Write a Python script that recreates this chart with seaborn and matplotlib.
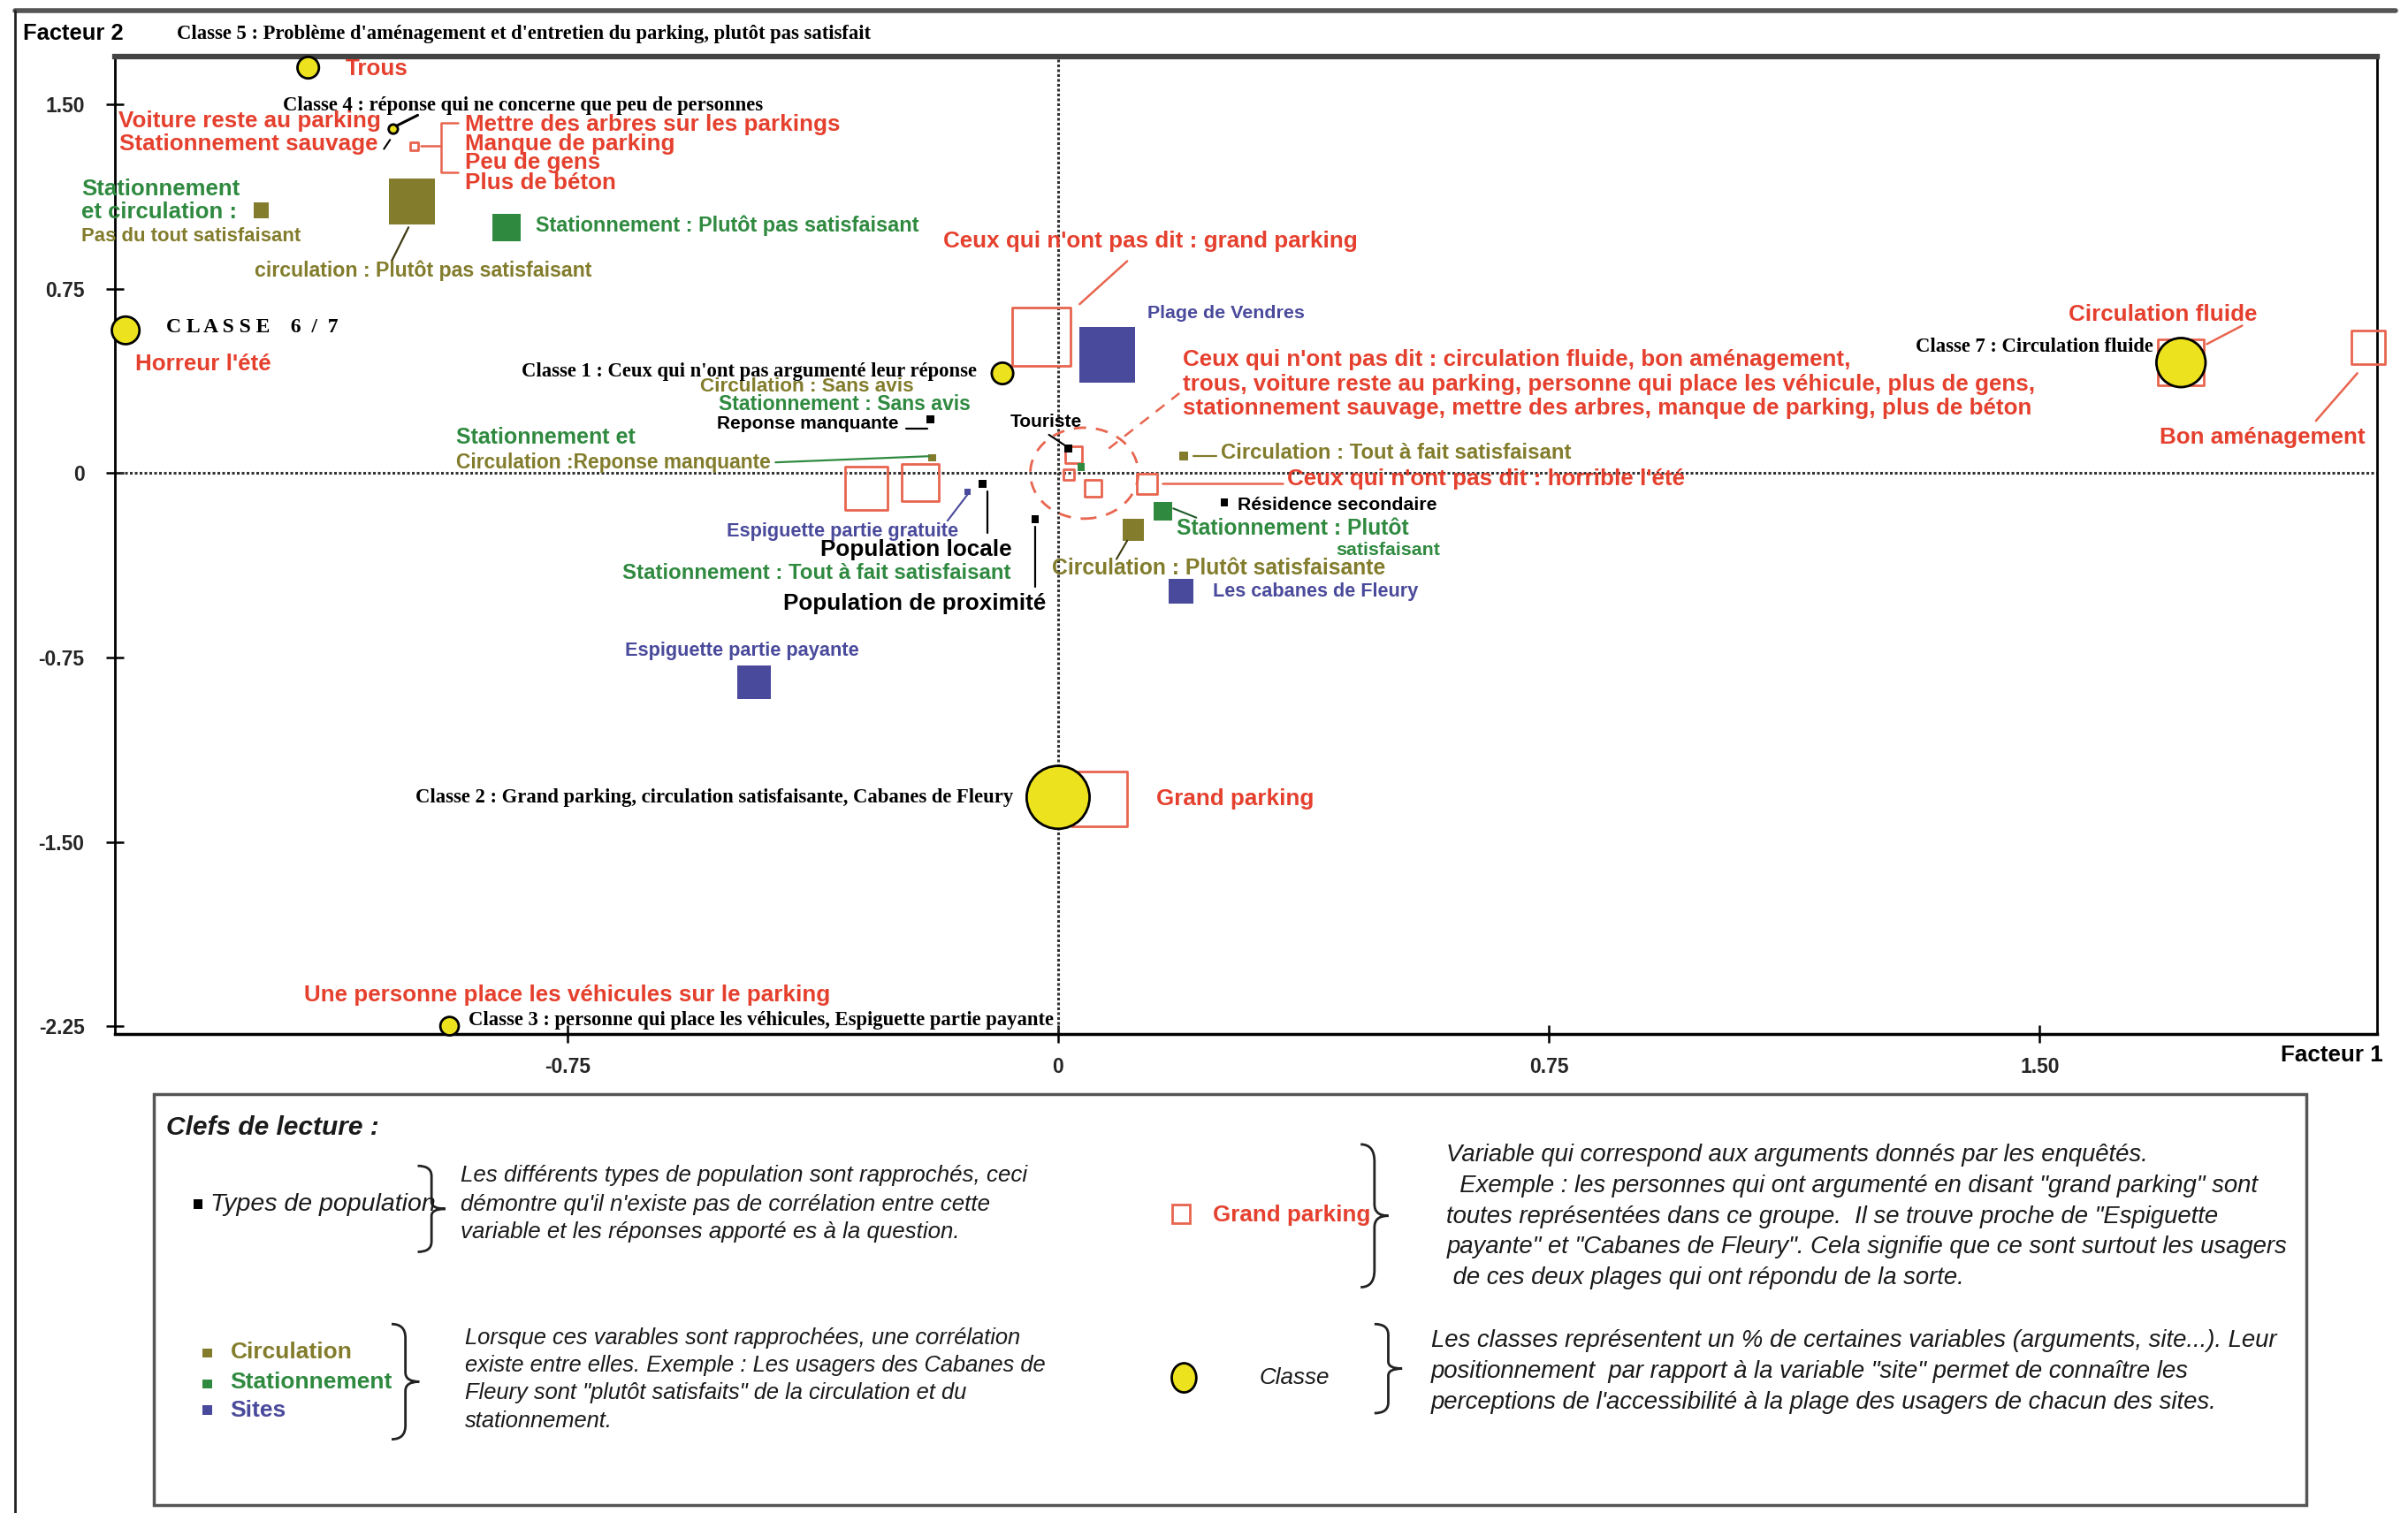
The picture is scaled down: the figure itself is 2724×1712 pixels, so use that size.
import matplotlib
matplotlib.use("Agg")
import matplotlib.pyplot as plt
import seaborn as sns
from matplotlib.lines import Line2D
from matplotlib.patches import Rectangle, Ellipse, PathPatch
from matplotlib.path import Path

# --------------------------------------------------
# DATA (factor coordinates)
# --------------------------------------------------
class_names = ["Classe 1", "Classe 2", "Classe 3", "Classe 4", "Classe 5", "Classe 6/7", "Classe 7"]
class_f1 = [-0.085, 0.0, -0.93, -1.016, -1.146, -1.425, 1.716]
class_f2 = [0.406, -1.319, -2.25, 1.40, 1.65, 0.581, 0.45]
class_weight = [14, 41, 12, 6, 14, 18, 32]

arg_names = ["Circulation fluide", "Bon aménagement", "Ceux qui n'ont pas dit : grand parking",
             "Grand parking", "Argument a", "Argument b", "Argument c", "Argument d",
             "Argument e", "Ceux qui n'ont pas dit : horrible l'été", "Arguments classe 4"]
arg_f1 = [1.716, 2.002, -0.026, 0.063, -0.293, -0.211, 0.024, 0.016, 0.054, 0.136, -0.984]
arg_f2 = [0.45, 0.512, 0.556, -1.325, -0.062, -0.038, 0.075, -0.006, -0.062, -0.044, 1.331]
arg_weight = [30, 22, 38, 36, 28, 24, 11, 7, 11, 13, 5]

circ_names = ["Pas du tout satisfaisant", "Plutôt pas satisfaisant", "Reponse manquante",
              "Tout à fait satisfaisant", "Plutôt satisfaisante"]
circ_f1 = [-1.218, -0.988, -0.192, 0.192, 0.115]
circ_f2 = [1.069, 1.106, 0.062, 0.069, -0.231]
circ_weight = [10, 30, 5, 6, 14]

stat_names = ["Plutôt pas satisfaisant", "Plutôt satisfaisant", "Tout à fait satisfaisant"]
stat_f1 = [-0.843, 0.160, 0.035]
stat_f2 = [1.0, -0.156, 0.025]
stat_weight = [18, 12, 5]

site_names = ["Plage de Vendres", "Espiguette partie gratuite", "Les cabanes de Fleury",
              "Espiguette partie payante"]
site_f1 = [0.075, -0.138, 0.188, -0.465]
site_f2 = [0.481, -0.075, -0.481, -0.85]
site_weight = [36, 4, 16, 22]

pop_names = ["Reponse manquante", "Touriste", "Population locale", "Population de proximité",
             "Résidence secondaire"]
pop_f1 = [-0.195, 0.016, -0.115, -0.035, 0.254]
pop_f2 = [0.219, 0.10, -0.044, -0.188, -0.119]
pop_weight = [5, 5, 5, 5, 5]

xticks = [-0.75, 0, 0.75, 1.50]
xtick_labels = ["-0.75", "0", "0.75", "1.50"]
yticks = [1.50, 0.75, 0, -0.75, -1.50, -2.25]
ytick_labels = ["1.50", "0.75", "0", "-0.75", "-1.50", "-2.25"]

# --------------------------------------------------
# STYLE
# --------------------------------------------------
RED = "#e5402e"
RED_EDGE = "#e8654f"
OLIVE = "#827c2c"
GREEN = "#2f8a40"
BLUE = "#4a4a9c"
YELLOW = "#ede21e"

sns.set_theme(style="white")
SANS = "Liberation Sans"
SERIF = "Liberation Serif"
plt.rcParams["font.family"] = [SANS, "DejaVu Sans"]

# reference frame used for placing annotations (preview pixel grid)
W, H = 1568, 985


def fx(px):
    return px / W


def fy(py):
    return 1 - py / H


def msize(px):
    # preview px -> points, squared for scatter
    return (px * 1.25) ** 2


fig = plt.figure(figsize=(27.24, 17.12), dpi=100)
ax = fig.add_axes([fx(75), fy(673), fx(1548) - fx(75), fy(37) - fy(673)])

ax.set_xlim(-1.441, 2.016)
ax.set_ylim(-2.281, 1.694)

ax.axhline(0, color="#333333", lw=2.2, ls=(0, (1, 0.8)), zorder=1)
ax.axvline(0, color="#333333", lw=2.2, ls=(0, (1, 0.8)), zorder=1)

# --------------------------------------------------
# MARKERS
# --------------------------------------------------
sns.scatterplot(x=arg_f1, y=arg_f2, s=[msize(v) for v in arg_weight], marker="s",
                color="none", edgecolor=RED_EDGE, linewidth=2.0, ax=ax, zorder=3,
                legend=False, clip_on=False)
sns.scatterplot(x=circ_f1, y=circ_f2, s=[msize(v) for v in circ_weight], marker="s",
                color=OLIVE, edgecolor=OLIVE, linewidth=0, ax=ax, zorder=4, legend=False)
sns.scatterplot(x=stat_f1, y=stat_f2, s=[msize(v) for v in stat_weight], marker="s",
                color=GREEN, edgecolor=GREEN, linewidth=0, ax=ax, zorder=4, legend=False)
sns.scatterplot(x=site_f1, y=site_f2, s=[msize(v) for v in site_weight], marker="s",
                color=BLUE, edgecolor=BLUE, linewidth=0, ax=ax, zorder=4, legend=False)
sns.scatterplot(x=pop_f1, y=pop_f2, s=[msize(v) for v in pop_weight], marker="s",
                color="black", edgecolor="black", linewidth=0, ax=ax, zorder=4, legend=False)
sns.scatterplot(x=class_f1, y=class_f2, s=[msize(v) for v in class_weight], marker="o",
                color=YELLOW, edgecolor="black", linewidth=2.0, ax=ax, zorder=5,
                legend=False, clip_on=False)

# dashed ring around the points near the origin
ax.add_patch(Ellipse((0.04, 0.0), 0.165, 0.37, fill=False, ec=RED_EDGE, lw=2.0,
                     ls=(0, (5, 4)), zorder=3))

# --------------------------------------------------
# AXES
# --------------------------------------------------
ax.set_xticks(xticks)
ax.set_xticklabels(xtick_labels)
ax.set_yticks(yticks)
ax.set_yticklabels(ytick_labels)
ax.tick_params(axis="both", direction="inout", length=14, width=1.8, color="black",
               labelsize=16.5, bottom=True, left=True, top=False, right=False)
ax.tick_params(axis="x", pad=12)
ax.tick_params(axis="y", pad=18)
for lab in ax.get_xticklabels() + ax.get_yticklabels():
    lab.set_fontweight("bold")
for side, lw, col in [("top", 4.5, "#444444"), ("left", 2.0, "black"),
                      ("bottom", 2.5, "black"), ("right", 2.0, "black")]:
    ax.spines[side].set_visible(True)
    ax.spines[side].set_linewidth(lw)
    ax.spines[side].set_color(col)
ax.set_xlabel("")
ax.set_ylabel("")

# --------------------------------------------------
# LABELS
# --------------------------------------------------
def red(px, py, s, ha="left", size=18.7):
    fig.text(fx(px), fy(py), s, color=RED, ha=ha, va="center", family=SANS,
             weight="bold", size=size)


def lab(px, py, s, color, size, ha="left"):
    fig.text(fx(px), fy(py), s, color=color, ha=ha, va="center", family=SANS,
             weight="bold", size=size)


def serif(px, py, s, ha="left", size=16.3):
    fig.text(fx(px), fy(py), s, color="black", ha=ha, va="center", family=SERIF,
             weight="bold", size=size)


def link(points, color, lw=1.8, ls="-"):
    fig.add_artist(Line2D([fx(p[0]) for p in points], [fy(p[1]) for p in points],
                          color=color, lw=lw, ls=ls, transform=fig.transFigure))


lab(15, 22, "Facteur 2", "black", 18.4)
serif(115, 22, "Classe 5 : Problème d'aménagement et d'entretien du parking, plutôt pas satisfait")
red(225, 45, "Trous")
serif(184, 69, "Classe 4 : réponse qui ne concerne que peu de personnes")
red(248, 79, "Voiture reste au parking", ha="right")
red(246, 94, "Stationnement sauvage", ha="right")
red(303, 81, "Mettre des arbres sur les parkings")
red(303, 94, "Manque de parking")
red(303, 106, "Peu de gens")
red(303, 119, "Plus de béton")
link([(298, 80), (287, 80), (287, 112), (298, 112)], RED_EDGE)
link([(274, 95), (287, 95)], RED_EDGE)
link([(258, 82), (272, 75)], "black", lw=2.2)
link([(250, 97), (254, 91)], "black", lw=1.5)

lab(53, 123, "Stationnement", GREEN, 18.5)
lab(53, 138, "et circulation :", GREEN, 18.5)
lab(53, 154, "Pas du tout satisfaisant", OLIVE, 15.9)
lab(349, 147, "Stationnement : Plutôt pas satisfaisant", GREEN, 16.9)
lab(166, 176, "circulation : Plutôt pas satisfaisant", OLIVE, 16.7)
link([(255, 170), (266, 148)], "#3d3a10", lw=1.6)

serif(108, 213, "C L A S S E    6  /  7", size=17)
red(88, 237, "Horreur l'été")

red(614, 157, "Ceux qui n'ont pas dit : grand parking")
link([(703, 198), (734, 170)], RED_EDGE)
lab(747, 204, "Plage de Vendres", BLUE, 15.4)
serif(636, 242, "Classe 1 : Ceux qui n'ont pas argumenté leur réponse", ha="right")
lab(456, 252, "Circulation : Sans avis", OLIVE, 16.2)
lab(468, 263, "Stationnement : Sans avis", GREEN, 16.6)
lab(467, 276, "Reponse manquante", "black", 15)
link([(590, 279), (604, 279)], "black", lw=1.6)
lab(297, 285, "Stationnement et", GREEN, 18)
lab(297, 301, "Circulation :Reponse manquante", OLIVE, 16.4)
link([(505, 301), (605, 297)], GREEN, lw=1.6)
lab(658, 275, "Touriste", "black", 15)
link([(683, 283), (695, 291)], "black", lw=1.5)

red(770, 234, "Ceux qui n'ont pas dit : circulation fluide, bon aménagement,")
red(770, 250, "trous, voiture reste au parking, personne qui place les véhicule, plus de gens,")
red(770, 266, "stationnement sauvage, mettre des arbres, manque de parking, plus de béton")
link([(722, 292), (768, 256)], RED_EDGE, ls=(0, (5, 4)))

link([(777, 297), (792, 297)], OLIVE, lw=1.6)
lab(795, 295, "Circulation : Tout à fait satisfaisant", OLIVE, 17.2)
link([(757, 315), (835, 315)], RED_EDGE)
red(838, 312, "Ceux qui n'ont pas dit : horrible l'été")
lab(806, 329, "Résidence secondaire", "black", 15.3)
lab(766, 344, "Stationnement : Plutôt", GREEN, 17.7)
lab(870, 358, "satisfaisant", GREEN, 15.4)
link([(764, 331), (779, 337)], "#1f5a2a", lw=1.5)
lab(473, 346, "Espiguette partie gratuite", BLUE, 15.7)
link([(617, 339), (630, 322)], BLUE, lw=1.5)
lab(534, 358, "Population locale", "black", 18.8)
link([(643, 320), (643, 347)], "black", lw=1.6)
lab(685, 370, "Circulation : Plutôt satisfaisante", OLIVE, 17.8)
link([(734, 352), (727, 364)], "#3d3a10", lw=1.5)
lab(405, 373, "Stationnement : Tout à fait satisfaisant", GREEN, 17.3)
lab(510, 393, "Population de proximité", "black", 18.7)
link([(674, 343), (674, 382)], "black", lw=1.6)
lab(790, 385, "Les cabanes de Fleury", BLUE, 15.6)
lab(407, 424, "Espiguette partie payante", BLUE, 15.7)

serif(1402, 226, "Classe 7 : Circulation fluide", ha="right")
red(1347, 205, "Circulation fluide")
link([(1437, 224), (1460, 212)], RED_EDGE)
red(1406, 285, "Bon aménagement")
link([(1508, 274), (1535, 243)], RED_EDGE)

serif(660, 519, "Classe 2 : Grand parking, circulation satisfaisante, Cabanes de Fleury", ha="right")
red(753, 520, "Grand parking")
red(198, 648, "Une personne place les véhicules sur le parking")
serif(305, 664, "Classe 3 : personne qui place les véhicules, Espiguette partie payante")
lab(1485, 687, "Facteur 1", "black", 18.7)

# outer page frame
link([(10, 7), (1560, 7)], "#555555", lw=4)
link([(10, 7), (10, 985)], "#222222", lw=2)

# --------------------------------------------------
# READING KEY
# --------------------------------------------------
fig.add_artist(Rectangle((fx(100), fy(980)), fx(1502) - fx(100), fy(712) - fy(980),
                         fill=False, ec="#555555", lw=2.5, transform=fig.transFigure))


def key_text(px, py, s, size=18.5, color="#1a1a1a", weight="normal"):
    fig.text(fx(px), fy(py), s, color=color, ha="left", va="center", family=SANS,
             style="italic", weight=weight, size=size)


def brace(px, py0, py1, w):
    h = py1 - py0
    pm = (py0 + py1) / 2
    xm = px + w / 2
    pts = [(px, py0), (xm, py0), (xm, py0 + 0.12 * h), (xm, pm - 0.08 * h),
           (xm, pm), (px + w, pm), (xm, pm), (xm, pm + 0.08 * h),
           (xm, py1 - 0.12 * h), (xm, py1), (px, py1)]
    codes = [Path.MOVETO, Path.CURVE3, Path.CURVE3, Path.LINETO,
             Path.CURVE3, Path.CURVE3, Path.CURVE3, Path.CURVE3,
             Path.LINETO, Path.CURVE3, Path.CURVE3]
    path = Path([(fx(a), fy(b)) for a, b in pts], codes)
    fig.add_artist(PathPatch(path, fill=False, ec="#222222", lw=2.0, transform=fig.transFigure))


def key_square(px, py, side, color, hollow=False):
    wf = side / W
    hf = side / H
    fig.add_artist(Rectangle((fx(px) - wf / 2, fy(py) - hf / 2), wf, hf,
                             fc="none" if hollow else color, ec=color, lw=2.0 if hollow else 0,
                             transform=fig.transFigure))


key_text(108, 734, "Clefs de lecture :", size=21.5, weight="bold")

key_square(129, 784, 6, "black")
key_text(137, 784, "Types de population", size=20.5)
brace(272, 759, 815, 18)
key_text(300, 765, "Les différents types de population sont rapprochés, ceci", size=18.6)
key_text(300, 784, "démontre qu'il n'existe pas de corrélation entre cette", size=18.6)
key_text(300, 802, "variable et les réponses apporté es à la question.", size=18.6)

key_square(135, 881, 6, OLIVE)
lab(150, 880, "Circulation", OLIVE, 19)
key_square(135, 901, 6, GREEN)
lab(150, 900, "Stationnement", GREEN, 19)
key_square(135, 918, 6, BLUE)
lab(150, 918, "Sites", BLUE, 19)
brace(255, 862, 937, 18)
key_text(303, 871, "Lorsque ces varables sont rapprochées, une corrélation", size=18.4)
key_text(303, 889, "existe entre elles. Exemple : Les usagers des Cabanes de", size=18.4)
key_text(303, 907, "Fleury sont \"plutôt satisfaits\" de la circulation et du", size=18.4)
key_text(303, 925, "stationnement.", size=18.4)

key_square(769, 790, 12, RED_EDGE, hollow=True)
red(790, 791, "Grand parking")
brace(886, 745, 838, 18)
key_text(942, 752, "Variable qui correspond aux arguments donnés par les enquêtés.", size=19.8)
key_text(942, 772, "  Exemple : les personnes qui ont argumenté en disant \"grand parking\" sont", size=19.8)
key_text(942, 792, "toutes représentées dans ce groupe.  Il se trouve proche de \"Espiguette", size=19.8)
key_text(942, 812, "payante\" et \"Cabanes de Fleury\". Cela signifie que ce sont surtout les usagers", size=19.8)
key_text(942, 832, " de ces deux plages qui ont répondu de la sorte.", size=19.8)

fig.add_artist(Ellipse((fx(771), fy(897)), 16 / W, 19 / H, fc=YELLOW, ec="black", lw=2.0,
                       transform=fig.transFigure))
key_text(820, 897, "Classe", size=18.7)
brace(895, 862, 920, 18)
key_text(932, 873, "Les classes représentent un % de certaines variables (arguments, site...). Leur", size=19.8)
key_text(932, 893, "positionnement  par rapport à la variable \"site\" permet de connaître les", size=19.8)
key_text(932, 913, "perceptions de l'accessibilité à la plage des usagers de chacun des sites.", size=19.8)

fig.savefig("out.png", dpi=100, facecolor="white")
